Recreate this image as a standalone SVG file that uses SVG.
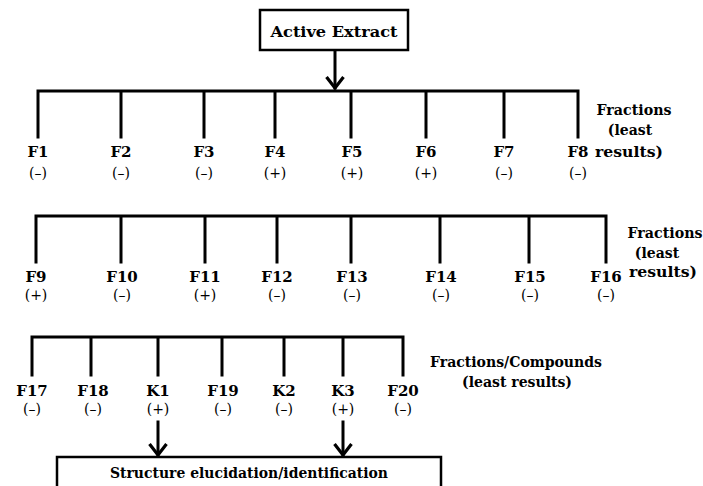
<svg xmlns="http://www.w3.org/2000/svg" width="703" height="486" viewBox="0 0 703 486">
<defs>
<marker id="ah" markerUnits="userSpaceOnUse" viewBox="0 0 14 20" markerWidth="14" markerHeight="20" refX="12" refY="10" orient="auto">
<path d="M1,1.5 L12,10 L1,18.5" fill="none" stroke="#000" stroke-width="3.2" stroke-linejoin="miter"/>
</marker>
<style>
.ln{stroke:#000;stroke-width:3;fill:none;stroke-linecap:square}
.box{stroke:#000;stroke-width:2.5;fill:#fff}
.lb{font-family:"DejaVu Serif","Liberation Serif",serif;font-weight:bold;font-size:15px;text-anchor:middle;fill:#000}
.sg{font-family:"DejaVu Serif","Liberation Serif",serif;font-size:14px;text-anchor:middle;fill:#000}
.nt{font-family:"DejaVu Serif","Liberation Serif",serif;font-weight:bold;font-size:14px;text-anchor:middle;fill:#000}
</style>
</defs>
<g id="connectors">
<path class="ln" d="M335,51 V88" marker-end="url(#ah)"/>
<path class="ln" d="M38,137 V91 H578 V137 M121,91 V137 M204,91 V137 M275,91 V137 M351,91 V137 M426,91 V137 M504,91 V137"/>
<path class="ln" d="M36,262 V216 H606 V262 M121,216 V262 M205,216 V262 M277,216 V262 M351,216 V262 M440,216 V262 M529,216 V262"/>
<path class="ln" d="M32,375 V337 H403 V375 M91,337 V375 M158,337 V375 M222,337 V375 M284,337 V375 M343,337 V375"/>
<path class="ln" d="M158,422 V455" marker-end="url(#ah)"/>
<path class="ln" d="M343,422 V455" marker-end="url(#ah)"/>
</g>
<g id="active-extract">
<rect class="box" x="260" y="10" width="148" height="40"/>
<text class="lb" x="334" y="37" font-size="16" textLength="127" lengthAdjust="spacingAndGlyphs">Active Extract</text>
</g>
<g id="row1">
<g id="F1"><text class="lb" x="38" y="157">F1</text><text class="sg" x="38" y="178">(–)</text></g>
<g id="F2"><text class="lb" x="121" y="157">F2</text><text class="sg" x="121" y="178">(–)</text></g>
<g id="F3"><text class="lb" x="204" y="157">F3</text><text class="sg" x="204" y="178">(–)</text></g>
<g id="F4"><text class="lb" x="275" y="157">F4</text><text class="sg" x="275" y="178">(+)</text></g>
<g id="F5"><text class="lb" x="352" y="157">F5</text><text class="sg" x="352" y="178">(+)</text></g>
<g id="F6"><text class="lb" x="426" y="157">F6</text><text class="sg" x="426" y="178">(+)</text></g>
<g id="F7"><text class="lb" x="504" y="157">F7</text><text class="sg" x="504" y="178">(–)</text></g>
<g id="F8"><text class="lb" x="578" y="157">F8</text><text class="sg" x="578" y="178">(–)</text></g>
<g id="note1"><text class="nt" x="634" y="115" textLength="75" lengthAdjust="spacingAndGlyphs">Fractions</text><text class="nt" x="630" y="135">(least</text><text class="nt" x="629" y="157" textLength="68" lengthAdjust="spacingAndGlyphs">results)</text></g>
</g>
<g id="row2">
<g id="F9"><text class="lb" x="36" y="282">F9</text><text class="sg" x="36" y="300">(+)</text></g>
<g id="F10"><text class="lb" x="122" y="282">F10</text><text class="sg" x="122" y="300">(–)</text></g>
<g id="F11"><text class="lb" x="205" y="282">F11</text><text class="sg" x="205" y="300">(+)</text></g>
<g id="F12"><text class="lb" x="277" y="282">F12</text><text class="sg" x="277" y="300">(–)</text></g>
<g id="F13"><text class="lb" x="352" y="282">F13</text><text class="sg" x="352" y="300">(–)</text></g>
<g id="F14"><text class="lb" x="441" y="282">F14</text><text class="sg" x="441" y="300">(–)</text></g>
<g id="F15"><text class="lb" x="530" y="282">F15</text><text class="sg" x="530" y="300">(–)</text></g>
<g id="F16"><text class="lb" x="606" y="282">F16</text><text class="sg" x="606" y="300">(–)</text></g>
<g id="note2"><text class="nt" x="665" y="238" textLength="75" lengthAdjust="spacingAndGlyphs">Fractions</text><text class="nt" x="657" y="258">(least</text><text class="nt" x="663" y="277" textLength="68" lengthAdjust="spacingAndGlyphs">results)</text></g>
</g>
<g id="row3">
<g id="F17"><text class="lb" x="32" y="396">F17</text><text class="sg" x="32" y="414">(–)</text></g>
<g id="F18"><text class="lb" x="93" y="396">F18</text><text class="sg" x="93" y="414">(–)</text></g>
<g id="K1"><text class="lb" x="158" y="396">K1</text><text class="sg" x="158" y="414">(+)</text></g>
<g id="F19"><text class="lb" x="223" y="396">F19</text><text class="sg" x="223" y="414">(–)</text></g>
<g id="K2"><text class="lb" x="284" y="396">K2</text><text class="sg" x="284" y="414">(–)</text></g>
<g id="K3"><text class="lb" x="343" y="396">K3</text><text class="sg" x="343" y="414">(+)</text></g>
<g id="F20"><text class="lb" x="403" y="396">F20</text><text class="sg" x="403" y="414">(–)</text></g>
<g id="note3"><text class="nt" x="516" y="367" textLength="172" lengthAdjust="spacingAndGlyphs">Fractions/Compounds</text><text class="nt" x="517" y="387" textLength="110" lengthAdjust="spacingAndGlyphs">(least results)</text></g>
</g>
<g id="structure">
<rect class="box" x="57" y="457" width="384" height="40"/>
<text class="nt" x="249" y="478" textLength="278" lengthAdjust="spacingAndGlyphs">Structure elucidation/identification</text>
</g>
</svg>
